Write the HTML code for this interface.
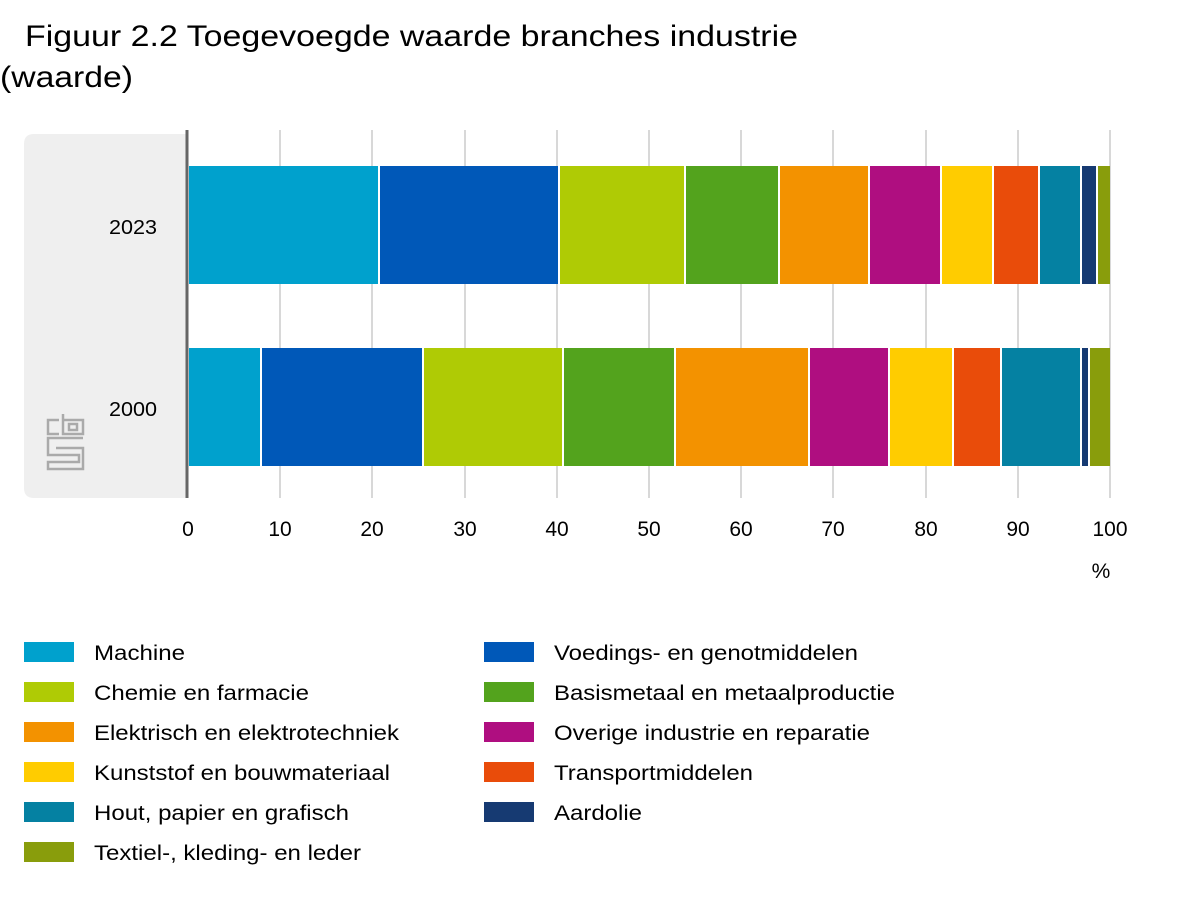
<!DOCTYPE html>
<html><head><meta charset="utf-8"><style>
body{margin:0;background:#fff;font-family:"Liberation Sans",sans-serif}
</style></head><body>
<svg width="1200" height="900" xmlns="http://www.w3.org/2000/svg" font-family="Liberation Sans, sans-serif">
<text x="25" y="46" font-size="30" fill="#000" textLength="773" lengthAdjust="spacingAndGlyphs">Figuur 2.2 Toegevoegde waarde branches industrie</text>
<text x="0" y="87" font-size="30" fill="#000" textLength="133" lengthAdjust="spacingAndGlyphs">(waarde)</text>
<path d="M34 134 H187 V498 H34 Q24 498 24 488 V144 Q24 134 34 134Z" fill="#efefef"/>
<g stroke="#cccccc" stroke-width="1.5">
<line x1="280" y1="130" x2="280" y2="498"/><line x1="372" y1="130" x2="372" y2="498"/>
<line x1="465" y1="130" x2="465" y2="498"/><line x1="557" y1="130" x2="557" y2="498"/>
<line x1="649" y1="130" x2="649" y2="498"/><line x1="741" y1="130" x2="741" y2="498"/>
<line x1="833" y1="130" x2="833" y2="498"/><line x1="926" y1="130" x2="926" y2="498"/>
<line x1="1018" y1="130" x2="1018" y2="498"/><line x1="1110" y1="130" x2="1110" y2="498"/>
</g>
<g>
<rect x="189" y="166" width="189" height="118" fill="#00a1cd"/>
<rect x="380" y="166" width="178" height="118" fill="#0058b8"/>
<rect x="560" y="166" width="124" height="118" fill="#afcb05"/>
<rect x="686" y="166" width="92" height="118" fill="#53a31d"/>
<rect x="780" y="166" width="88" height="118" fill="#f39200"/>
<rect x="870" y="166" width="70" height="118" fill="#af0e80"/>
<rect x="942" y="166" width="50" height="118" fill="#ffcc00"/>
<rect x="994" y="166" width="44" height="118" fill="#e94c0a"/>
<rect x="1040" y="166" width="40" height="118" fill="#0581a2"/>
<rect x="1082" y="166" width="14" height="118" fill="#163a72"/>
<rect x="1098" y="166" width="12" height="118" fill="#899d0c"/>

<rect x="189" y="348" width="71" height="118" fill="#00a1cd"/>
<rect x="262" y="348" width="160" height="118" fill="#0058b8"/>
<rect x="424" y="348" width="138" height="118" fill="#afcb05"/>
<rect x="564" y="348" width="110" height="118" fill="#53a31d"/>
<rect x="676" y="348" width="132" height="118" fill="#f39200"/>
<rect x="810" y="348" width="78" height="118" fill="#af0e80"/>
<rect x="890" y="348" width="62" height="118" fill="#ffcc00"/>
<rect x="954" y="348" width="46" height="118" fill="#e94c0a"/>
<rect x="1002" y="348" width="78" height="118" fill="#0581a2"/>
<rect x="1082" y="348" width="6" height="118" fill="#163a72"/>
<rect x="1090" y="348" width="20" height="118" fill="#899d0c"/>
</g>
<rect x="185.5" y="130" width="3" height="368" fill="#666"/>
<g font-size="20" fill="#000" text-anchor="end">
<text x="157" y="234" textLength="48" lengthAdjust="spacingAndGlyphs">2023</text><text x="157" y="416" textLength="48" lengthAdjust="spacingAndGlyphs">2000</text>
</g>
<g fill="none" stroke="#aaa" stroke-width="2.5">
<path d="M59 420 H48 V434 H59"/><path d="M63 414 V434 H83 V420 H63"/><rect x="69" y="424" width="8" height="6"/>
<path d="M83 438 H48 V455 H79 V462 H48 V469 H83 V448 H56"/>
</g>
<g font-size="21" fill="#000" text-anchor="middle">
<text x="188" y="536">0</text><text x="280" y="536">10</text><text x="372" y="536">20</text>
<text x="465" y="536">30</text><text x="557" y="536">40</text><text x="649" y="536">50</text>
<text x="741" y="536">60</text><text x="833" y="536">70</text><text x="926" y="536">80</text>
<text x="1018" y="536">90</text><text x="1110" y="536">100</text>
<text x="1101" y="578">%</text>
</g>
<g font-size="21" fill="#000" transform="translate(0,0)">
<rect x="24" y="642" width="50" height="20" fill="#00a1cd"/><text x="94" y="660" textLength="91" lengthAdjust="spacingAndGlyphs">Machine</text>
<rect x="24" y="682" width="50" height="20" fill="#afcb05"/><text x="94" y="700" textLength="215" lengthAdjust="spacingAndGlyphs">Chemie en farmacie</text>
<rect x="24" y="722" width="50" height="20" fill="#f39200"/><text x="94" y="740" textLength="305" lengthAdjust="spacingAndGlyphs">Elektrisch en elektrotechniek</text>
<rect x="24" y="762" width="50" height="20" fill="#ffcc00"/><text x="94" y="780" textLength="296" lengthAdjust="spacingAndGlyphs">Kunststof en bouwmateriaal</text>
<rect x="24" y="802" width="50" height="20" fill="#0581a2"/><text x="94" y="820" textLength="255" lengthAdjust="spacingAndGlyphs">Hout, papier en grafisch</text>
<rect x="24" y="842" width="50" height="20" fill="#899d0c"/><text x="94" y="860" textLength="267" lengthAdjust="spacingAndGlyphs">Textiel-, kleding- en leder</text>
<rect x="484" y="642" width="50" height="20" fill="#0058b8"/><text x="554" y="660" textLength="304" lengthAdjust="spacingAndGlyphs">Voedings- en genotmiddelen</text>
<rect x="484" y="682" width="50" height="20" fill="#53a31d"/><text x="554" y="700" textLength="341" lengthAdjust="spacingAndGlyphs">Basismetaal en metaalproductie</text>
<rect x="484" y="722" width="50" height="20" fill="#af0e80"/><text x="554" y="740" textLength="316" lengthAdjust="spacingAndGlyphs">Overige industrie en reparatie</text>
<rect x="484" y="762" width="50" height="20" fill="#e94c0a"/><text x="554" y="780" textLength="199" lengthAdjust="spacingAndGlyphs">Transportmiddelen</text>
<rect x="484" y="802" width="50" height="20" fill="#163a72"/><text x="554" y="820" textLength="88" lengthAdjust="spacingAndGlyphs">Aardolie</text>
</g>
</svg>
</body></html>
